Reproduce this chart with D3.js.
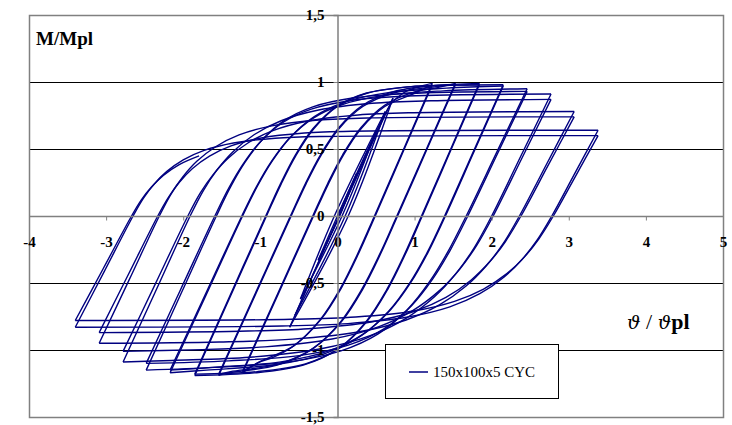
<!DOCTYPE html>
<html><head><meta charset="utf-8">
<script src="https://cdn.jsdelivr.net/npm/d3@7"></script>
<style>html,body{margin:0;padding:0;background:#fff;} svg{display:block;}</style>
</head><body>
<script>
// ---------- data ----------
const xTicks = [-4, -3, -2, -1, 0, 1, 2, 3, 4, 5];
const xTickLabels = ["-4", "-3", "-2", "-1", "0", "1", "2", "3", "4", "5"];
const yTicks = [-1.5, -1, -0.5, 0, 0.5, 1, 1.5];
const yTickLabels = ["-1,5", "-1", "-0,5", "0", "0,5", "1", "1,5"];
const yGridValues = [-1, -0.5, 0.5, 1];
const seriesName = "150x100x5 CYC";
const yTitle = "M/Mpl";

// [theta/theta_pl, M/Mpl], in test order
const elasticCycles = [[0,0],[0.25,0.32],[0.03,0],[-0.25,-0.33],[0.0,0],[0.5,0.63],[0.06,0],[-0.48,-0.62],[-0.04,0],[0.62,0.78],[0.1,0],[-0.55,-0.74],[0.02,0],[0.72,0.88],[0.14,0],[-0.62,-0.83]];
const cycle123 = [[-0.30,-0.415],[0.02,0],[0.45,0.56],[0.70,0.84],[0.86,0.92],[1.02,0.96],[1.23,0.99],
  [0.855,0.495],[0.48,0],[0.258,-0.287],[0.037,-0.541],[-0.229,-0.777],[-0.583,-0.976],[-0.849,-1.059],[-1.026,-1.094],[-1.23,-1.17],
  [-0.77,-0.585],[-0.31,0],[-0.117,0.24],[0.075,0.453],[0.306,0.651],[0.614,0.817],[1.0,0.916],[1.23,0.98],
  [0.86,0.49],[0.49,0],[0.271,-0.284],[0.052,-0.536],[-0.211,-0.77],[-0.561,-0.967],[-1.0,-1.085],[-1.23,-1.16]];
const cycle153 = [[-0.775,-0.58],[-0.32,0],[-0.126,0.243],[0.068,0.457],[0.301,0.657],[0.611,0.826],[1.0,0.926],[1.31,0.96],[1.53,0.99],
  [1.15,0.495],[0.77,0],[0.542,-0.292],[0.313,-0.55],[0.04,-0.79],[-0.326,-0.992],[-0.782,-1.113],[-1.421,-1.171],[-1.54,-1.19],
  [-1.07,-0.595],[-0.6,0],[-0.407,0.24],[-0.213,0.453],[0.019,0.651],[0.329,0.817],[0.716,0.916],[1.258,0.964],[1.53,0.98],
  [1.155,0.49],[0.78,0],[0.554,-0.289],[0.329,-0.545],[0.058,-0.784],[-0.304,-0.984],[-0.755,-1.103],[-1.387,-1.161],[-1.54,-1.18]];
const cycle184 = [[-1.075,-0.59],[-0.61,0],[-0.415,0.243],[-0.22,0.457],[0.014,0.657],[0.326,0.826],[0.716,0.926],[1.262,0.974],[1.84,0.99],
  [1.465,0.495],[1.09,0],[0.865,-0.292],[0.639,-0.55],[0.368,-0.79],[0.008,-0.992],[-0.443,-1.113],[-1.075,-1.171],[-1.85,-1.19],
  [-1.385,-0.595],[-0.92,0],[-0.729,0.24],[-0.537,0.453],[-0.307,0.651],[-0.001,0.817],[0.382,0.916],[0.918,0.964],[1.684,0.978],[1.84,0.98],
  [1.47,0.49],[1.1,0],[0.877,-0.289],[0.654,-0.545],[0.387,-0.784],[0.031,-0.984],[-0.415,-1.103],[-1.038,-1.161],[-1.85,-1.18]];
const cycle215 = [[-1.39,-0.59],[-0.93,0],[-0.739,0.24],[-0.548,0.453],[-0.319,0.651],[-0.013,0.817],[0.369,0.916],[0.904,0.964],[1.668,0.978],[2.15,0.98],
  [1.77,0.49],[1.39,0],[1.163,-0.273],[0.936,-0.501],[0.664,-0.711],[0.3,-0.897],[-0.154,-1.025],[-0.789,-1.108],[-1.697,-1.15],[-2.17,-1.17],
  [-1.7,-0.585],[-1.23,0],[-1.035,0.226],[-0.84,0.415],[-0.607,0.59],[-0.295,0.744],[0.094,0.85],[0.64,0.919],[1.419,0.954],[2.15,0.97],
  [1.775,0.485],[1.4,0],[1.178,-0.268],[0.956,-0.492],[0.689,-0.699],[0.333,-0.882],[-0.111,-1.007],[-0.734,-1.089],[-1.623,-1.13],[-2.17,-1.15]];
const cycle246 = [[-1.705,-0.575],[-1.24,0],[-1.048,0.221],[-0.856,0.407],[-0.626,0.578],[-0.318,0.729],[0.066,0.832],[0.603,0.9],[1.371,0.934],[2.46,0.95],
  [2.065,0.475],[1.67,0],[1.431,-0.268],[1.192,-0.492],[0.905,-0.699],[0.523,-0.882],[0.045,-1.007],[-0.624,-1.089],[-1.58,-1.13],[-2.48,-1.15],
  [-2.025,-0.575],[-1.57,0],[-1.386,0.217],[-1.202,0.398],[-0.981,0.565],[-0.687,0.713],[-0.319,0.815],[0.196,0.881],[0.932,0.914],[2.46,0.93],
  [2.075,0.465],[1.69,0],[1.462,-0.256],[1.234,-0.471],[0.961,-0.669],[0.597,-0.844],[0.141,-0.964],[-0.496,-1.042],[-1.407,-1.081],[-2.48,-1.1]];
const cycle277 = [[-2.035,-0.55],[-1.59,0],[-1.406,0.212],[-1.222,0.389],[-1.001,0.553],[-0.707,0.698],[-0.339,0.797],[0.176,0.862],[0.912,0.895],[2.77,0.91],
  [2.385,0.455],[2.0,0],[1.769,-0.241],[1.539,-0.428],[1.262,-0.601],[0.894,-0.762],[0.433,-0.891],[-0.213,-0.991],[-1.135,-1.054],[-2.149,-1.078],[-2.78,-1.09],
  [-2.345,-0.545],[-1.91,0],[-1.737,0.192],[-1.563,0.342],[-1.355,0.479],[-1.077,0.608],[-0.73,0.711],[-0.244,0.791],[0.45,0.841],[1.213,0.86],[2.77,0.87],
  [2.395,0.435],[2.02,0],[1.802,-0.223],[1.585,-0.397],[1.323,-0.557],[0.975,-0.706],[0.539,-0.825],[-0.07,-0.918],[-0.941,-0.977],[-1.9,-0.999],[-2.78,-1.01]];
const cycle307 = [[-2.36,-0.505],[-1.94,0],[-1.778,0.172],[-1.615,0.307],[-1.421,0.43],[-1.161,0.545],[-0.837,0.637],[-0.382,0.709],[0.267,0.754],[0.981,0.771],[3.07,0.78],
  [2.715,0.39],[2.36,0],[2.144,-0.21],[1.928,-0.373],[1.668,-0.523],[1.322,-0.664],[0.89,-0.776],[0.284,-0.864],[-0.581,-0.919],[-1.533,-0.94],[-3.09,-0.95],
  [-2.7,-0.475],[-2.31,0],[-2.158,0.164],[-2.006,0.291],[-1.824,0.408],[-1.58,0.517],[-1.276,0.605],[-0.851,0.673],[-0.243,0.716],[0.426,0.732],[3.07,0.74],
  [2.725,0.37],[2.38,0],[2.177,-0.192],[1.974,-0.342],[1.731,-0.479],[1.407,-0.608],[1.001,-0.711],[0.434,-0.791],[-0.377,-0.841],[-1.27,-0.86],[-3.09,-0.87]];
const cycle338 = [[-2.71,-0.435],[-2.33,0],[-2.19,0.141],[-2.05,0.252],[-1.883,0.353],[-1.659,0.447],[-1.38,0.523],[-0.988,0.582],[-0.429,0.619],[0.186,0.633],[3.38,0.64],
  [3.08,0.32],[2.78,0],[2.586,-0.183],[2.391,-0.326],[2.158,-0.457],[1.846,-0.58],[1.457,-0.678],[0.913,-0.754],[0.135,-0.803],[-0.721,-0.821],[-3.4,-0.83],
  [-3.025,-0.415],[-2.65,0],[-2.515,0.133],[-2.379,0.236],[-2.216,0.331],[-2.0,0.419],[-1.729,0.49],[-1.349,0.545],[-0.807,0.58],[-0.211,0.593],[3.38,0.6],
  [3.09,0.30],[2.8,0],[2.611,-0.172],[2.423,-0.307],[2.197,-0.43],[1.895,-0.545],[1.518,-0.637],[0.99,-0.709],[0.236,-0.754],[-0.593,-0.771],[-3.4,-0.78]];
const finalUnloading = [[-3.035,-0.39],[-2.67,0],[-2.541,0.122],[-2.412,0.216],[-2.258,0.303],[-2.052,0.384],[-1.794,0.449]];

const series = [].concat(elasticCycles, cycle123, cycle153, cycle184, cycle215, cycle246, cycle277, cycle307, cycle338, finalUnloading);

// ---------- drawing ----------
const W = 732, H = 425;
const svg = d3.select("body").append("svg").attr("width", W).attr("height", H)
  .style("font-family", "'Liberation Serif','Times New Roman',serif");
svg.append("rect").attr("width", W).attr("height", H).attr("fill", "#fff");

const x = d3.scaleLinear().domain([-4, 5]).range([29, 723]);
const y = d3.scaleLinear().domain([-1.5, 1.5]).range([417, 15]);

// gridlines
svg.append("g").selectAll("line").data(yGridValues).join("line")
  .attr("x1", x(-4)).attr("x2", x(5))
  .attr("y1", d => Math.round(y(d)) + 0.5).attr("y2", d => Math.round(y(d)) + 0.5)
  .attr("stroke", "#000").attr("stroke-width", 1);

// plot border
svg.append("rect").attr("x", x(-4) + 0.5).attr("y", y(1.5) + 0.5)
  .attr("width", x(5) - x(-4)).attr("height", y(-1.5) - y(1.5))
  .attr("fill", "none").attr("stroke", "#808080").attr("stroke-width", 1.5);

// axes through zero
const xAxis = d3.axisBottom(x).tickValues(xTicks).tickSize(4).tickPadding(16)
  .tickFormat((d, i) => xTickLabels[i]);
const yAxis = d3.axisLeft(y).tickValues(yTicks).tickSize(4).tickPadding(9)
  .tickFormat((d, i) => yTickLabels[i]);

const gx = svg.append("g").attr("transform", `translate(0,${Math.round(y(0)) + 0.5})`).call(xAxis);
const gy = svg.append("g").attr("transform", `translate(${Math.round(x(0)) + 0.5},0)`).call(yAxis);
[gx, gy].forEach(g => {
  g.attr("font-family", "'Liberation Serif',serif").attr("font-size", 15).attr("font-weight", "bold");
  g.select(".domain").attr("stroke", "#808080").attr("stroke-width", 1.5);
  g.selectAll(".tick line").attr("stroke", "#808080");
  g.selectAll(".tick text").attr("fill", "#000").style("font-size", "15px")
    .style("font-weight", "700").style("font-family", "'Liberation Serif',serif");
});
gx.select(".domain").attr("d", `M${x(-4)},0H${x(5)}`);

// data: split path into branches at reversal tips
const branches = [];
let cur = [series[0]];
for (let i = 1; i < series.length; i++) {
  cur.push(series[i]);
  if (i < series.length - 1) {
    const d1 = series[i][0] - series[i - 1][0];
    const d2 = series[i + 1][0] - series[i][0];
    if (d1 * d2 < 0) { branches.push(cur); cur = [series[i]]; }
  }
}
branches.push(cur);

const line = d3.line().x(d => x(d[0])).y(d => y(d[1])).curve(d3.curveCatmullRom.alpha(0.5));
const dataG = svg.append("g");
dataG.selectAll("path").data(branches).join("path")
  .attr("d", line).attr("fill", "none").attr("stroke", "#000080")
  .attr("stroke-width", 1.4).attr("stroke-linejoin", "round");

// raise axis labels above data
gx.raise(); gy.raise();
gx.select(".domain").lower();
gy.select(".domain").lower();

// titles
svg.append("text").attr("x", 36).attr("y", 45).text(yTitle)
  .style("font-size", "19px").style("font-weight", "bold");
const xt = svg.append("text").attr("x", 627).attr("y", 329)
  .style("font-size", "22px").style("font-weight", "bold");
xt.append("tspan").style("font-family", "'DejaVu Serif',serif").style("font-weight", "normal").style("font-style", "italic").style("font-size", "19px").text("\u03D1");
xt.append("tspan").style("font-weight", "normal").text(" / ");
xt.append("tspan").style("font-family", "'DejaVu Serif',serif").style("font-weight", "normal").style("font-style", "italic").style("font-size", "19px").text("\u03D1");
xt.append("tspan").text("pl");

// legend
const lg = svg.append("g");
lg.append("rect").attr("x", 385.5).attr("y", 344.5).attr("width", 173).attr("height", 54)
  .attr("fill", "#fff").attr("stroke", "#000").attr("stroke-width", 1);
lg.append("line").attr("x1", 409).attr("x2", 428).attr("y1", 372).attr("y2", 372)
  .attr("stroke", "#000080").attr("stroke-width", 1.5);
lg.append("text").attr("x", 433).attr("y", 377).text(seriesName).style("font-size", "15px");
</script>
</body></html>
